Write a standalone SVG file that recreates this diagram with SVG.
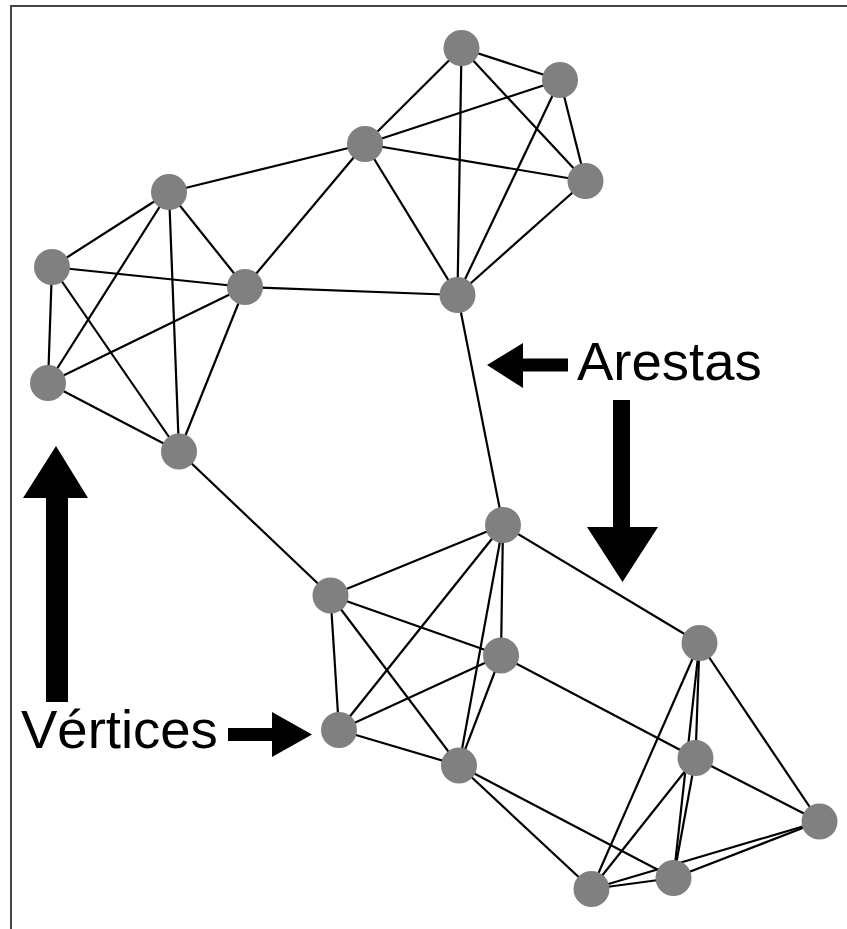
<svg xmlns="http://www.w3.org/2000/svg" width="847" height="929" viewBox="0 0 847 929">
<style>
.e{stroke:#000;stroke-width:2.2;fill:none}
.n{fill:#808080}
.t{font-family:"Liberation Sans",Arial,sans-serif;font-size:54.5px;fill:#000}
.a{fill:#000}
</style>
<rect width="847" height="929" fill="#fff"/>
<path d="M11,929 V6 H847" stroke="#444" stroke-width="2" fill="none"/>
<g id="connectors" class="e">
<line x1="461.5" y1="48" x2="560" y2="80"/>
<line x1="461.5" y1="48" x2="585.5" y2="181"/>
<line x1="461.5" y1="48" x2="365" y2="144"/>
<line x1="461.5" y1="48" x2="457.5" y2="295"/>
<line x1="560" y1="80" x2="585.5" y2="181"/>
<line x1="560" y1="80" x2="365" y2="144"/>
<line x1="560" y1="80" x2="457.5" y2="295"/>
<line x1="585.5" y1="181" x2="365" y2="144"/>
<line x1="585.5" y1="181" x2="457.5" y2="295"/>
<line x1="365" y1="144" x2="457.5" y2="295"/>
<line x1="169" y1="192" x2="52" y2="267"/>
<line x1="169" y1="192" x2="245" y2="287"/>
<line x1="169" y1="192" x2="48" y2="383"/>
<line x1="169" y1="192" x2="179" y2="451.5"/>
<line x1="52" y1="267" x2="245" y2="287"/>
<line x1="52" y1="267" x2="48" y2="383"/>
<line x1="52" y1="267" x2="179" y2="451.5"/>
<line x1="245" y1="287" x2="48" y2="383"/>
<line x1="245" y1="287" x2="179" y2="451.5"/>
<line x1="48" y1="383" x2="179" y2="451.5"/>
<line x1="503" y1="525" x2="330.5" y2="595.5"/>
<line x1="503" y1="525" x2="501" y2="655.5"/>
<line x1="503" y1="525" x2="339" y2="730"/>
<line x1="503" y1="525" x2="459" y2="765.5"/>
<line x1="330.5" y1="595.5" x2="501" y2="655.5"/>
<line x1="330.5" y1="595.5" x2="339" y2="730"/>
<line x1="330.5" y1="595.5" x2="459" y2="765.5"/>
<line x1="501" y1="655.5" x2="339" y2="730"/>
<line x1="501" y1="655.5" x2="459" y2="765.5"/>
<line x1="339" y1="730" x2="459" y2="765.5"/>
<line x1="699.5" y1="643" x2="695.5" y2="758"/>
<line x1="699.5" y1="643" x2="819.5" y2="821.5"/>
<line x1="699.5" y1="643" x2="591.5" y2="889"/>
<line x1="699.5" y1="643" x2="673.5" y2="878"/>
<line x1="695.5" y1="758" x2="819.5" y2="821.5"/>
<line x1="695.5" y1="758" x2="591.5" y2="889"/>
<line x1="695.5" y1="758" x2="673.5" y2="878"/>
<line x1="819.5" y1="821.5" x2="591.5" y2="889"/>
<line x1="819.5" y1="821.5" x2="673.5" y2="878"/>
<line x1="591.5" y1="889" x2="673.5" y2="878"/>
<line x1="365" y1="144" x2="169" y2="192"/>
<line x1="365" y1="144" x2="245" y2="287"/>
<line x1="245" y1="287" x2="457.5" y2="295"/>
<line x1="457.5" y1="295" x2="503" y2="525"/>
<line x1="179" y1="451.5" x2="330.5" y2="595.5"/>
<line x1="503" y1="525" x2="699.5" y2="643"/>
<line x1="501" y1="655.5" x2="695.5" y2="758"/>
<line x1="459" y1="765.5" x2="673.5" y2="878"/>
<line x1="459" y1="765.5" x2="591.5" y2="889"/>
</g>
<g id="nA"><circle class="n" cx="461.5" cy="48" r="18"/></g>
<g id="nB"><circle class="n" cx="560" cy="80" r="18"/></g>
<g id="nC"><circle class="n" cx="585.5" cy="181" r="18"/></g>
<g id="nD"><circle class="n" cx="365" cy="144" r="18"/></g>
<g id="nE"><circle class="n" cx="169" cy="192" r="18"/></g>
<g id="nF"><circle class="n" cx="52" cy="267" r="18"/></g>
<g id="nG"><circle class="n" cx="245" cy="287" r="18"/></g>
<g id="nH"><circle class="n" cx="457.5" cy="295" r="18"/></g>
<g id="nI"><circle class="n" cx="48" cy="383" r="18"/></g>
<g id="nJ"><circle class="n" cx="179" cy="451.5" r="18"/></g>
<g id="nK"><circle class="n" cx="503" cy="525" r="18"/></g>
<g id="nL"><circle class="n" cx="330.5" cy="595.5" r="18"/></g>
<g id="nM"><circle class="n" cx="501" cy="655.5" r="18"/></g>
<g id="nN"><circle class="n" cx="699.5" cy="643" r="18"/></g>
<g id="nO"><circle class="n" cx="339" cy="730" r="18"/></g>
<g id="nP"><circle class="n" cx="459" cy="765.5" r="18"/></g>
<g id="nQ"><circle class="n" cx="695.5" cy="758" r="18"/></g>
<g id="nR"><circle class="n" cx="819.5" cy="821.5" r="18"/></g>
<g id="nS"><circle class="n" cx="591.5" cy="889" r="18"/></g>
<g id="nT"><circle class="n" cx="673.5" cy="878" r="18"/></g>
<g id="label-arestas">
<text class="t" x="577" y="380">Arestas</text>
<polygon class="a" points="487,365 523,343 523,358.5 568,358.5 568,371.5 523,371.5 523,388"/>
<polygon class="a" points="613,400 630,400 630,527 658,527 622.5,582 587,527 613,527"/>
</g>
<g id="label-vertices">
<text class="t" x="21" y="748">Vértices</text>
<polygon class="a" points="56,446 88,498 68,498 68,702 46,702 46,498 23,498"/>
<polygon class="a" points="228,728 272,728 272,712 312,734.5 272,757 272,741 228,741"/>
</g>
</svg>
